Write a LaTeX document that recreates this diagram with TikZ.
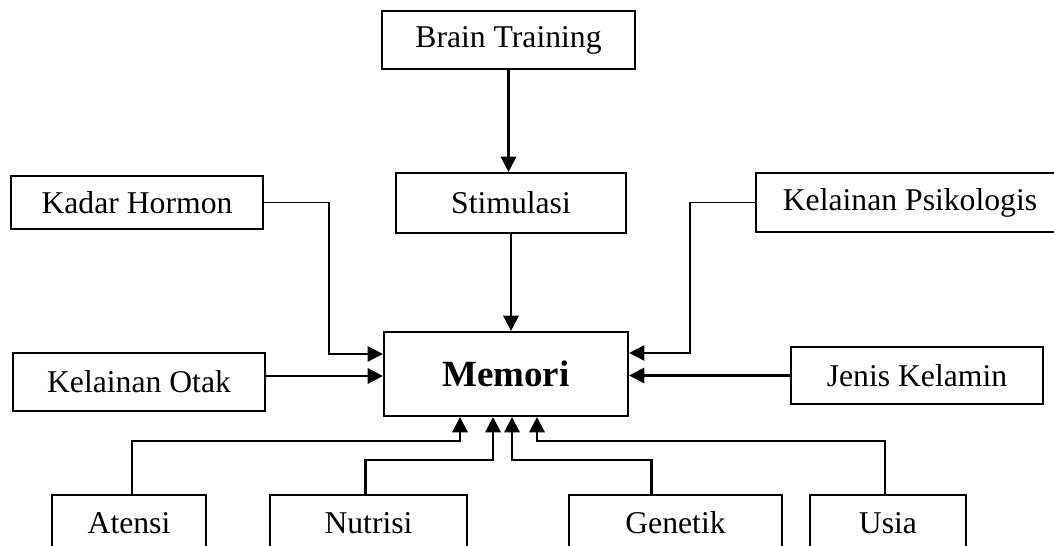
\documentclass[tikz,border=0pt]{standalone}
\usepackage{fontspec}
\setmainfont{Liberation Serif}
\usepackage{tikz}
\usetikzlibrary{shapes, arrows.meta, positioning}
\newcommand{\pxu}{0.3788pt}

\begin{document}
\begin{tikzpicture}
  [
    x=\pxu, y=-\pxu,
    Box/.style={rectangle, draw=black, line width=0.8pt, font=\fontsize{12}{14}\selectfont},
    Main/.style={rectangle, draw=black, line width=0.8pt, font=\fontsize{14}{16}\selectfont\bfseries},
    Arrow/.style={-{Triangle[length=5.8pt, width=5.8pt]}, draw, line width=0.9pt},
    Thin/.style={-{Triangle[length=5.8pt, width=5.8pt]}, draw, line width=0.6pt}
  ]
  \useasboundingbox (0,0) rectangle (1054,546);

  % Nodes
  \node[Main, minimum width=244*\pxu, minimum height=84*\pxu] (memori) at (506, 374) {Memori};

  \node[Box, minimum width=253*\pxu, minimum height=58*\pxu] (brain) at (508.5, 40) {Brain Training};
  \node[Box, minimum width=230*\pxu, minimum height=60*\pxu] (stim) at (511, 203) {Stimulasi};

  \node[Box, minimum width=252*\pxu, minimum height=53*\pxu] (kadar) at (137, 202.5) {Kadar Hormon};
  \node[Box, minimum width=252*\pxu, minimum height=58*\pxu] (otak) at (139, 382) {Kelainan Otak};

  \node[Box, minimum width=308*\pxu, minimum height=59*\pxu] (psiko) at (910, 202.5) {Kelainan Psikologis};
  \node[Box, minimum width=252*\pxu, minimum height=57*\pxu] (jenis) at (917, 375.5) {Jenis Kelamin};

  \node[Box, minimum width=154*\pxu, minimum height=56*\pxu] (atensi) at (129, 523) {Atensi};
  \node[Box, minimum width=197*\pxu, minimum height=56*\pxu] (nutrisi) at (368.5, 523) {Nutrisi};
  \node[Box, minimum width=213*\pxu, minimum height=56*\pxu] (genetik) at (675.5, 523) {Genetik};
  \node[Box, minimum width=156*\pxu, minimum height=56*\pxu] (usia) at (888, 523) {Usia};

  % Bends
  \coordinate (kh) at (329, 354);
  \coordinate (kp) at (690, 353);
  \coordinate (at) at (460, 441);
  \coordinate (nu) at (493, 460);
  \coordinate (ge) at (512, 460);
  \coordinate (us) at (537, 441);

  % Lines
  \path [Arrow] (brain.south) -- (brain.south |- stim.north);
  \path [Arrow] (stim.south) -- (stim.south |- memori.north);

  \path [Thin] (kadar.east) -| (kh) -- (kh -| memori.west);
  \path [Arrow] ([yshift=6*\pxu]otak.east) -- ([yshift=6*\pxu]otak.east -| memori.west);

  \path [Thin] (psiko.west) -| (kp) -- (kp -| memori.east);
  \path [Arrow] (jenis.west) -- (jenis.west -| memori.east);

  \path [Arrow] ([xshift=3*\pxu]atensi.north) |- (at) -- (at |- memori.south);
  \path [Arrow] ([xshift=-3*\pxu]nutrisi.north) |- (nu) -- (nu |- memori.south);
  \path [Arrow] ([xshift=-24*\pxu]genetik.north) |- (ge) -- (ge |- memori.south);
  \path [Arrow] ([xshift=-3*\pxu]usia.north) |- (us) -- (us |- memori.south);

\end{tikzpicture}
\end{document}
